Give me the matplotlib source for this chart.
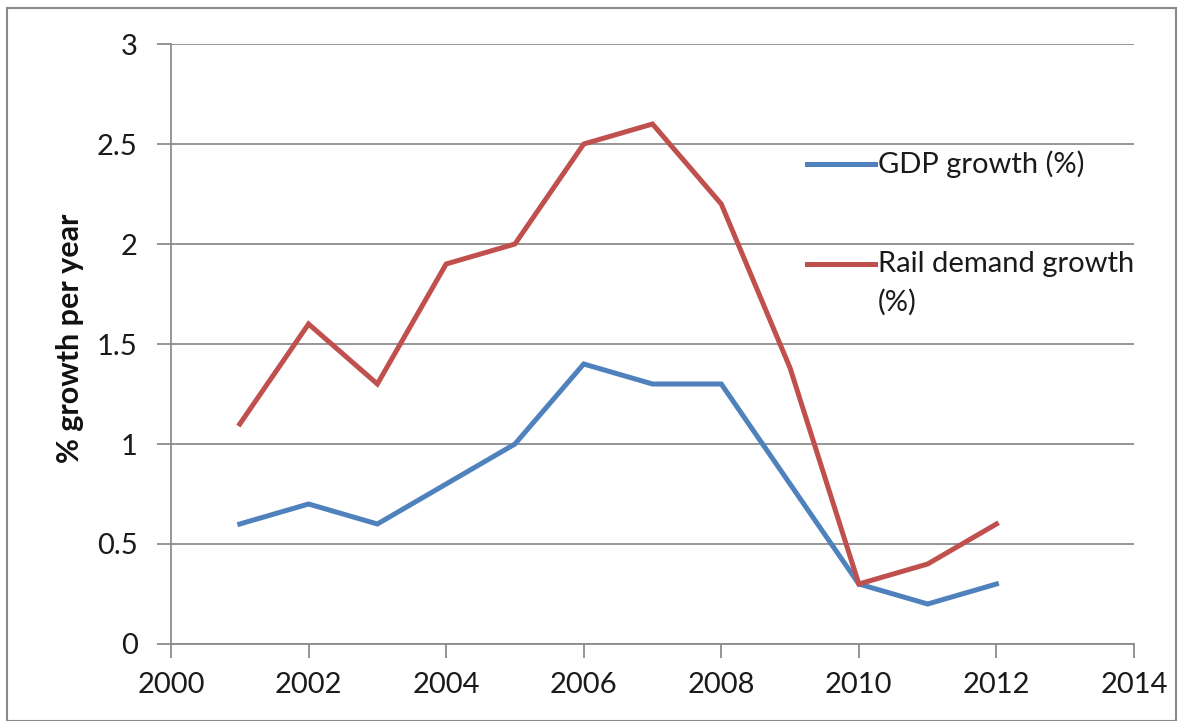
import matplotlib
matplotlib.use("Agg")
import matplotlib.pyplot as plt
from matplotlib.patches import Rectangle
from matplotlib.lines import Line2D

years = [2001, 2002, 2003, 2004, 2005, 2006, 2007, 2008, 2009, 2010, 2011, 2012]
gdp_growth = [0.6, 0.7, 0.6, 0.8, 1.0, 1.4, 1.3, 1.3, 0.8, 0.3, 0.2, 0.3]
rail_growth = [1.1, 1.6, 1.3, 1.9, 2.0, 2.5, 2.6, 2.2, 1.38, 0.3, 0.4, 0.6]
series_labels = ["GDP growth (%)", "Rail demand growth\n(%)"]
series_colors = ['#4F81BD', '#C0504D']
x_ticks = [2000, 2002, 2004, 2006, 2008, 2010, 2012, 2014]
y_ticks = [0, 0.5, 1, 1.5, 2, 2.5, 3]
y_tick_labels = ["0", "0.5", "1", "1.5", "2", "2.5", "3"]
y_label = "% growth per year"

plt.rcParams['font.family'] = ['Lato', 'DejaVu Sans']

W, H = 1183, 721
fig = plt.figure(figsize=(W / 100, H / 100), dpi=100)
fig.patches.append(Rectangle((7 / W, 0), (1176 - 7) / W, 1 - 8 / H, transform=fig.transFigure,
                             fill=False, edgecolor='#8a8a8a', linewidth=1.5))

ax = fig.add_axes([171 / W, 1 - 644 / H, (1134 - 171) / W, (644 - 44) / H])
grid_c = '#8c8c8c'
lw = 3.6
ax.plot(years, gdp_growth, color=series_colors[0], linewidth=lw, solid_joinstyle='miter')
ax.plot(years, rail_growth, color=series_colors[1], linewidth=lw, solid_joinstyle='miter')

ax.set_xlim(2000, 2014)
ax.set_ylim(0, 3)
ax.set_xticks(x_ticks)
ax.set_yticks(y_ticks)
ax.set_yticklabels(y_tick_labels)
ax.yaxis.grid(True, color=grid_c, linewidth=1.3)
ax.set_axisbelow(True)
for s in ['top', 'right']:
    ax.spines[s].set_visible(False)
for s in ['left', 'bottom']:
    ax.spines[s].set_color(grid_c)
    ax.spines[s].set_linewidth(1.3)
ax.tick_params(axis='y', length=10, width=1.3, color=grid_c, labelsize=21, pad=14, labelcolor='#1a1a1a')
ax.tick_params(axis='x', length=10, width=1.3, color=grid_c, labelsize=21, pad=10, labelcolor='#1a1a1a')
ax.set_ylabel(y_label, fontsize=22, fontweight='bold', color='#111111')
ax.yaxis.label.set_va('center')
ax.yaxis.set_label_coords((70 - 171) / (1134 - 171), 0.51)

# legend drawn manually (Excel style: line sample + wrapped label)
legend_rows = [164, 264]
for lab, col, yy in zip(series_labels, series_colors, legend_rows):
    fig.add_artist(Line2D([807 / W, 875 / W], [1 - yy / H, 1 - yy / H], color=col,
                          linewidth=lw, transform=fig.transFigure))
    for k, line in enumerate(lab.split("\n")):
        fig.text(878 / W, 1 - (yy + k * 38) / H, line, fontsize=21, color='#1a1a1a',
                 ha='left', va='center')

fig.savefig('out.png', dpi=100)
